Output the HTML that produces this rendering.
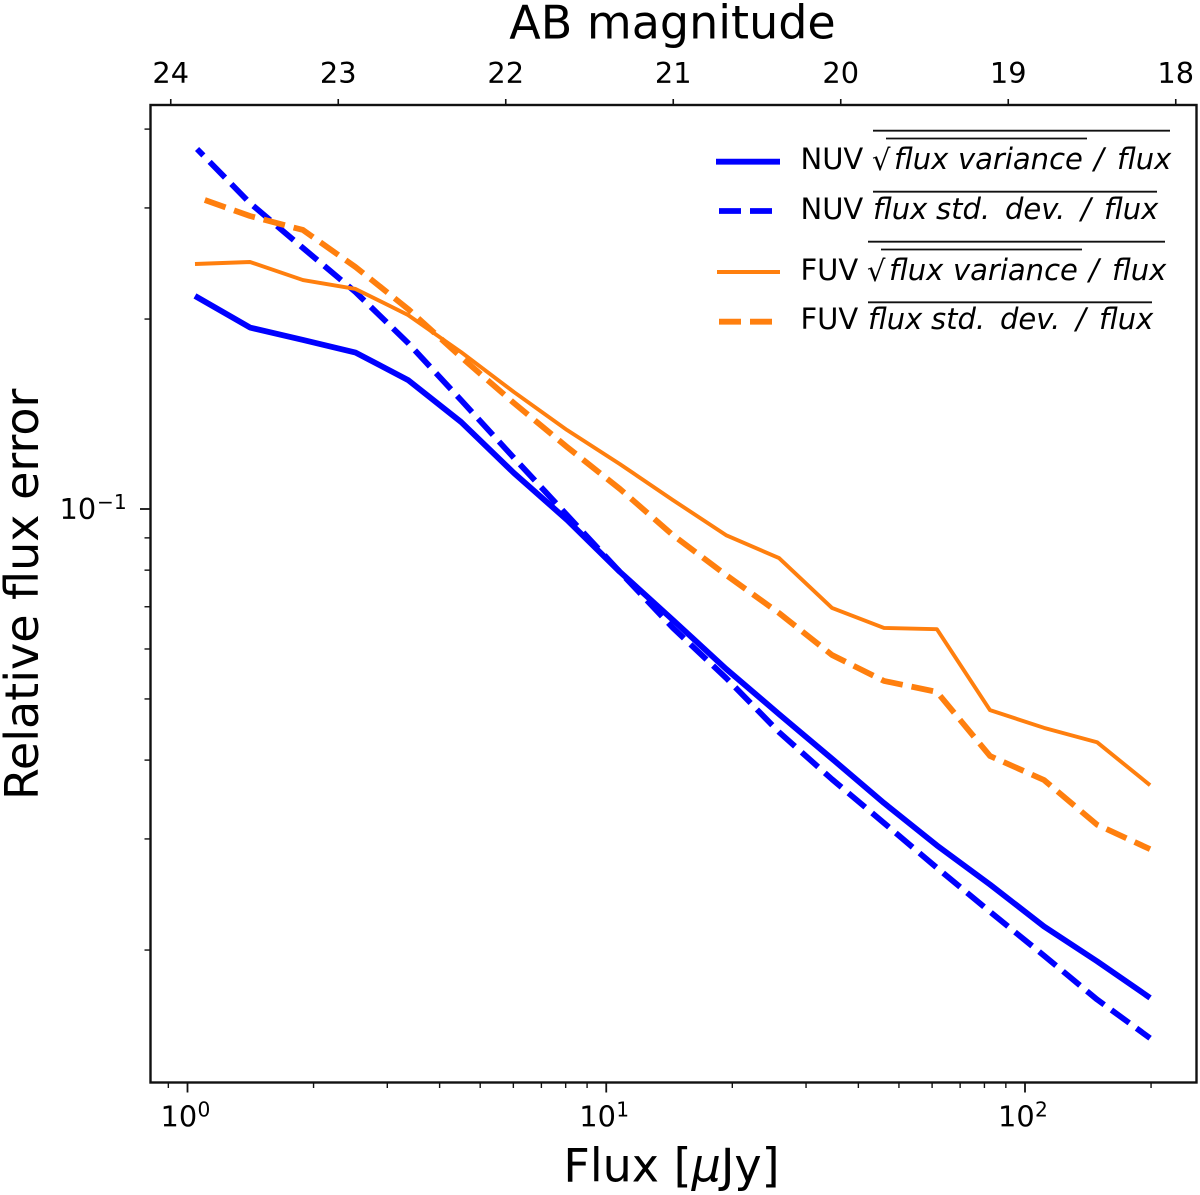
<!DOCTYPE html>
<html lang="en">
<head>
<meta charset="utf-8">
<title>Relative flux error vs flux</title>
<style>
html,body{margin:0;padding:0;background:#fff;width:1200px;height:1195px;overflow:hidden}
svg{display:block}
text{font-family:"DejaVu Sans","Liberation Sans",sans-serif;fill:#000}
.tick{font-size:28.8px}
.sup{font-size:20.2px}
.title{font-size:46px}
.leg{font-size:29px}
.m{font-size:29px;font-style:italic}
</style>
</head>
<body>
<svg id="chart" xmlns="http://www.w3.org/2000/svg" width="1200" height="1195" viewBox="0 0 1200 1195">
  <rect x="0" y="0" width="1200" height="1195" fill="#fff"/>
  <g id="series"></g>
  <g id="ticks"></g>
  <rect x="150.5" y="105" width="1046" height="977.5" fill="none" stroke="#111" stroke-width="2.4"/>

  <text class="title" x="672.5" y="38.5" text-anchor="middle">AB magnitude</text>
  <text class="title" x="671.5" y="1181.5" text-anchor="middle">Flux [<tspan font-style="italic">μ</tspan>Jy]</text>
  <text class="title" transform="translate(38,800) rotate(-90)" x="0" y="0">Relative flux error</text>

  <g id="legend">
    <g>
      <line x1="716" x2="780" y1="161.7" y2="161.7" stroke="#0000ff" stroke-width="5.8"/>
      <text class="leg" x="800.5" y="169">NUV</text>
      <text class="leg" x="872" y="170">√</text>
      <text class="m" x="894" y="169">flux</text>
      <text class="m" x="958" y="169">variance</text>
      <text class="m" x="1094" y="169">/</text>
      <text class="m" x="1117" y="169">flux</text>
      <line x1="873" x2="1170" y1="130.7" y2="130.7" stroke="#111" stroke-width="1.8"/>
      <line x1="886" x2="1087" y1="138.5" y2="138.5" stroke="#111" stroke-width="1.8"/>
    </g>
    <g>
      <line x1="719" x2="772" y1="211" y2="211" stroke="#0000ff" stroke-width="5.8" stroke-dasharray="22 9"/>
      <text class="leg" x="800.5" y="219">NUV</text>
      <text class="m" x="873" y="219">flux</text>
      <text class="m" x="936" y="219">std.</text>
      <text class="m" x="1005" y="219">dev.</text>
      <text class="m" x="1081" y="219">/</text>
      <text class="m" x="1104" y="219">flux</text>
      <line x1="873" x2="1157" y1="191.7" y2="191.7" stroke="#111" stroke-width="1.8"/>
    </g>
    <g>
      <line x1="717" x2="780" y1="272" y2="272" stroke="#ff7f0e" stroke-width="3.9"/>
      <text class="leg" x="800.5" y="280">FUV</text>
      <text class="leg" x="867" y="281">√</text>
      <text class="m" x="889" y="280">flux</text>
      <text class="m" x="953" y="280">variance</text>
      <text class="m" x="1089" y="280">/</text>
      <text class="m" x="1112" y="280">flux</text>
      <line x1="868" x2="1165" y1="241.7" y2="241.7" stroke="#111" stroke-width="1.8"/>
      <line x1="881" x2="1082" y1="249.5" y2="249.5" stroke="#111" stroke-width="1.8"/>
    </g>
    <g>
      <line x1="719" x2="772" y1="321.7" y2="321.7" stroke="#ff7f0e" stroke-width="5.8" stroke-dasharray="22 9"/>
      <text class="leg" x="800.5" y="329">FUV</text>
      <text class="m" x="868" y="329">flux</text>
      <text class="m" x="931" y="329">std.</text>
      <text class="m" x="1000" y="329">dev.</text>
      <text class="m" x="1076" y="329">/</text>
      <text class="m" x="1099" y="329">flux</text>
      <line x1="868" x2="1152" y1="302.3" y2="302.3" stroke="#111" stroke-width="1.8"/>
    </g>
  </g>
</svg>
<script>
var fluxBins = [1.042,1.410,1.887,2.519,3.362,4.50,6.02,8.06,10.78,14.43,19.32,25.86,34.6,46.05,61.6,82.5,111.0,148.6,198.9];
var fluxBinsNuvStd = [1.054,1.410,1.887,2.519,3.362,4.50,6.02,8.06,10.78,14.43,19.32,25.86,34.6,46.05,61.6,82.5,111.0,148.6,198.9];
var fluxBinsFuvStd = [1.10,1.410,1.887,2.519,3.362,4.50,6.02,8.06,10.78,14.43,19.32,25.86,34.6,46.05,61.6,82.5,111.0,148.6,198.9];
var nuvVariance = [0.2176,0.1939,0.1853,0.1770,0.1601,0.1374,0.1140,0.0961,0.0795,0.0667,0.0558,0.0473,0.0402,0.0342,0.0293,0.0254,0.0218,0.0192,0.0168];
var nuvStd = [0.372,0.3054,0.2592,0.2207,0.1833,0.1488,0.1205,0.0978,0.0795,0.0648,0.0540,0.0443,0.0373,0.0318,0.0270,0.0230,0.0196,0.0167,0.0145];
var fuvVariance = [0.2445,0.2463,0.2306,0.2232,0.2030,0.1773,0.1532,0.1334,0.1178,0.1033,0.0909,0.0836,0.0697,0.0648,0.0645,0.0480,0.0450,0.0427,0.0365];
var fuvStd = [0.3088,0.2913,0.2768,0.2418,0.2075,0.1741,0.1472,0.1254,0.1076,0.0909,0.0786,0.0684,0.0587,0.0534,0.0513,0.0406,0.0372,0.0316,0.0289];

var xMajorTicks = [1,10,100];
var xMajorLabels = ['0','1','2'];
var xMinorTicks = [0.9,2,3,4,5,6,7,8,9,20,30,40,50,60,70,80,90,200];
var yMajorTicks = [0.1];
var yMinorTicks = [0.02,0.03,0.04,0.05,0.06,0.07,0.08,0.09,0.2,0.3,0.4];
var magTicks = [24,23,22,21,20,19,18];

var NS = 'http://www.w3.org/2000/svg';
var PLOT_TOP = 105, PLOT_BOTTOM = 1082.5, PLOT_LEFT = 150;

function xScale(f){ return 187.5 + 418.75 * Math.log10(f); }
function yScale(v){ return 509 - 631 * (Math.log10(v) + 1); }
function magToFlux(m){ return Math.pow(10, (23.9 - m) / 2.5); }

function svgEl(tag){ return document.createElementNS(NS, tag); }

function tickLine(x1, y1, x2, y2, w){
  var l = svgEl('line');
  l.setAttribute('x1', x1);
  l.setAttribute('y1', y1);
  l.setAttribute('x2', x2);
  l.setAttribute('y2', y2);
  l.setAttribute('stroke', '#111');
  l.setAttribute('stroke-width', w);
  return l;
}

function label(x, y, txt, cls, anchor){
  var t = svgEl('text');
  t.setAttribute('x', x);
  t.setAttribute('y', y);
  t.setAttribute('class', cls);
  t.setAttribute('text-anchor', anchor);
  t.textContent = txt;
  return t;
}

var ticks = document.getElementById('ticks');
var series = document.getElementById('series');

xMajorTicks.forEach(function(f, i){
  var x = xScale(f);
  var l = tickLine(x, PLOT_BOTTOM, x, PLOT_BOTTOM + 10, 1.8);
  
  
  ticks.appendChild(l);
  var base = label(x - 27, 1126.7, '10', 'tick', 'start');
  
  
  ticks.appendChild(base);
  var sup = label(x + 10, 1116.5, xMajorLabels[i], 'sup', 'start');
  
  
  ticks.appendChild(sup);
});

xMinorTicks.forEach(function(f){
  var x = xScale(f);
  var l = tickLine(x, PLOT_BOTTOM, x, PLOT_BOTTOM + 5.5, 1.4);
  
  
  ticks.appendChild(l);
});

yMajorTicks.forEach(function(v){
  var y = yScale(v);
  var l = tickLine(PLOT_LEFT, y, PLOT_LEFT - 10, y, 1.8);
  
  
  ticks.appendChild(l);
  var base = label(59.5, y + 10, '10', 'tick', 'start');
  
  
  ticks.appendChild(base);
  var sup = label(97, y, '\u22121', 'sup', 'start');
  
  
  ticks.appendChild(sup);
});

yMinorTicks.forEach(function(v){
  var y = yScale(v);
  var l = tickLine(PLOT_LEFT, y, PLOT_LEFT - 5.5, y, 1.4);
  
  
  ticks.appendChild(l);
});

magTicks.forEach(function(m){
  var x = xScale(magToFlux(m));
  var l = tickLine(x, PLOT_TOP, x, PLOT_TOP - 6, 1.6);
  
  
  ticks.appendChild(l);
  var t = label(x, 83, String(m), 'tick', 'middle');
  
  
  ticks.appendChild(t);
});

function drawSeries(xs, ys, color, width, dash, offset){
  var p = svgEl('polyline');
  var pts = xs.map(function(f, i){ return xScale(f).toFixed(2) + ',' + yScale(ys[i]).toFixed(2); });
  p.setAttribute('points', pts.join(' '));
  p.setAttribute('fill', 'none');
  p.setAttribute('stroke', color);
  p.setAttribute('stroke-width', width);
  p.setAttribute('stroke-linejoin', 'round');
  if (dash) p.setAttribute('stroke-dasharray', dash);
  if (offset) p.setAttribute('stroke-dashoffset', offset);
  series.appendChild(p);
  return p;
}

var lineNuvVar = drawSeries(fluxBins, nuvVariance, '#0000ff', 5.8, null, 0);



var lineNuvStd = drawSeries(fluxBinsNuvStd, nuvStd, '#0000ff', 5.8, '22 9', 13);



var lineFuvVar = drawSeries(fluxBins, fuvVariance, '#ff7f0e', 3.9, null, 0);



var lineFuvStd = drawSeries(fluxBinsFuvStd, fuvStd, '#ff7f0e', 5.8, '22 9', 0);


</script>
</body>
</html>
